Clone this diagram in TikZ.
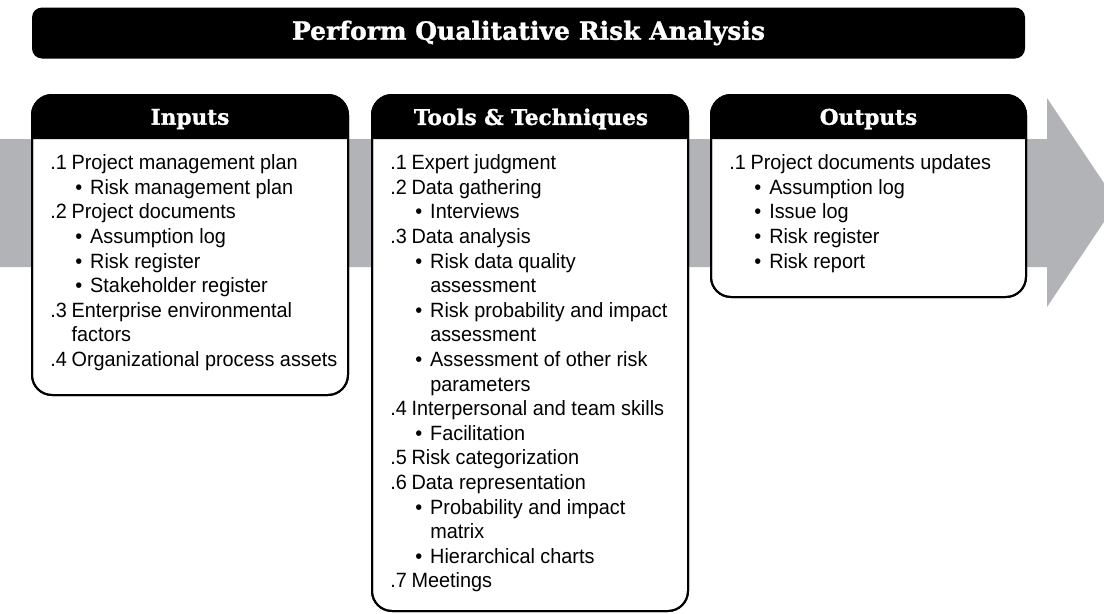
\documentclass[tikz,border=0pt]{standalone}
\usepackage{fontspec}
\setmainfont{Liberation Sans}[FakeStretch=0.96]
\newfontfamily\slab{DejaVu Serif Bold}[FakeBold=1.2]
\definecolor{arrowgray}{RGB}{177,179,182}
\newcommand\nl[2]{\makebox[16pt][l]{#1}#2}
\newcommand\bl[1]{\hspace*{18.75pt}\makebox[11.25pt][l]{\textbullet}#1}
\newcommand\cl[1]{\hspace*{16pt}#1}
\newcommand\cb[1]{\hspace*{30pt}#1}
\begin{document}
\begin{tikzpicture}[x=0.75pt,y=-0.75pt,
  boxframe/.style={draw=black,line width=1.5pt,fill=white,rounded corners=15pt},
  hdrfill/.style={fill=black},
  hdrtext/.style={text=white,font=\slab\fontsize{16.2}{18}\selectfont},
  bodytext/.style={anchor=north west,align=left,inner sep=0pt,font=\fontsize{15.5}{18.45}\selectfont}]
\useasboundingbox (0,0) rectangle (1104,614);
\begin{scope}
\clip (0,0) rectangle (1104,614);
\fill[arrowgray] (0,139) -- (1047,139) -- (1047,98) -- (1117,202.5) -- (1047,307) -- (1047,267) -- (0,267) -- cycle;
\end{scope}
% title
\node[fill=black,rounded corners=7.5pt,minimum width=744.75pt,minimum height=38.25pt,inner sep=0pt,
  text=white,font=\slab\fontsize{18.8}{20}\selectfont] (title) at (528.5,33) {Perform Qualitative Risk Analysis};
% boxes
\foreach \nm/\xa/\xb/\yb in {inbox/32/348/395, ttbox/372/688/611, outbox/711/1026/297}{
  \path[boxframe] (\xa,95) rectangle (\xb,\yb);
  \fill[hdrfill,rounded corners=15pt] (\xa,139) -- (\xa,95) -- (\xb,95) [sharp corners]-- (\xb,139) -- cycle;
  \draw[line width=1.5pt,rounded corners=15pt] (\xa,95) rectangle (\xb,\yb);
}
\node[hdrtext] (inhdr) at (190,119) {Inputs};
\node[hdrtext] (tthdr) at (531,119) {Tools \& Techniques};
\node[hdrtext] (outhdr) at (868.5,119) {Outputs};
\node[bodytext] (intext) at (50,154.5) {%
\nl{.1}{Project management plan}\\
\bl{Risk management plan}\\
\nl{.2}{Project documents}\\
\bl{Assumption log}\\
\bl{Risk register}\\
\bl{Stakeholder register}\\
\nl{.3}{Enterprise environmental}\\
\cl{factors}\\
\nl{.4}{Organizational process assets}};
\node[bodytext] (tttext) at (390,154.5) {%
\nl{.1}{Expert judgment}\\
\nl{.2}{Data gathering}\\
\bl{Interviews}\\
\nl{.3}{Data analysis}\\
\bl{Risk data quality}\\
\cb{assessment}\\
\bl{Risk probability and impact}\\
\cb{assessment}\\
\bl{Assessment of other risk}\\
\cb{parameters}\\
\nl{.4}{Interpersonal and team skills}\\
\bl{Facilitation}\\
\nl{.5}{Risk categorization}\\
\nl{.6}{Data representation}\\
\bl{Probability and impact}\\
\cb{matrix}\\
\bl{Hierarchical charts}\\
\nl{.7}{Meetings}};
\node[bodytext] (outtext) at (729,154.5) {%
\nl{.1}{Project documents updates}\\
\bl{Assumption log}\\
\bl{Issue log}\\
\bl{Risk register}\\
\bl{Risk report}};
\end{tikzpicture}
\end{document}
